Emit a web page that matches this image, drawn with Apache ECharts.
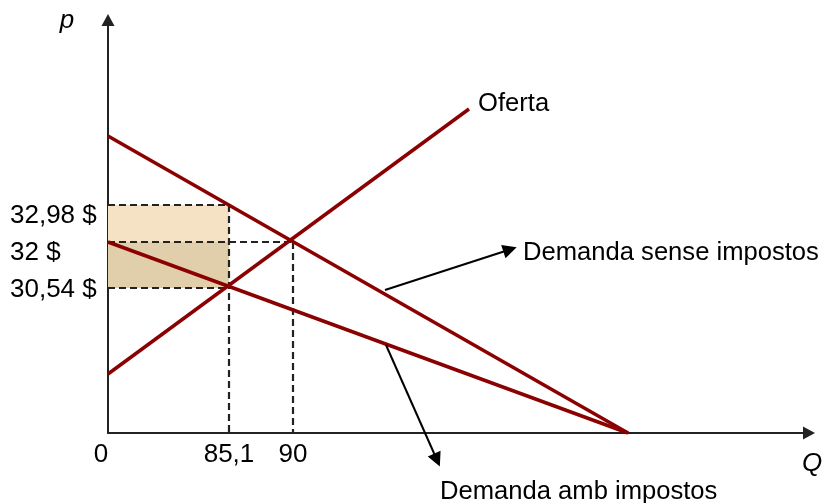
<!DOCTYPE html>
<html>
<head>
<meta charset="utf-8">
<script src="https://cdn.jsdelivr.net/npm/echarts@6/dist/echarts.min.js"></script>
<style>
html,body{margin:0;padding:0;background:#fff;}
#chart{width:822px;height:503px;}
</style>
</head>
<body>
<div id="chart"></div>
<script>
// Schematic diagram: coordinates are in arbitrary diagram units (not to scale).
const supplyLine = [[0, 59], [361, 324]];
const demandNoTax = [[0, 297], [520, 0]];
const demandWithTax = [[0, 191], [520, 0]];

const qTicks = [0, 121, 185];
const qLabels = ['0', '85,1', '90'];
const pTicks = [228, 191, 145];
const pLabels = ['32,98 $', '32 $', '30,54 $'];

const annotArrows = [
  [[277, 143], [402, 183.5]],
  [[278, 88], [329, -27]]
];
const textNotes = [
  { name: 'Oferta', value: [370, 329] },
  { name: 'Demanda sense impostos', value: [415, 180] },
  { name: 'Demanda amb impostos', value: [332, -59] }
];
const axisNames = [
  { name: 'p', value: [-41, 412] },
  { name: 'Q', value: [704, -31] }
];

const FONT = 'Arial, "Liberation Sans", sans-serif';
const FS = 26;
const FS_NOTE = 25.6;
const RED = '#8B0000';

// dashed guide segments built from tick values
const pTop = pTicks[0], pMid = pTicks[1], pLow = pTicks[2];
const q1 = qTicks[1], q0 = qTicks[2];
const dashedSegs = [
  [[0, pTop], [q1, pTop]],
  [[0, pMid], [q0, pMid]],
  [[0, pLow], [q1, pLow]],
  [[q1, pTop], [q1, 0]],
  [[q0, pMid], [q0, 0]]
];

const series = [];
// shaded rectangles
series.push({
  type: 'line', data: [], silent: true,
  markArea: {
    silent: true,
    data: [
      [{ coord: [0, pMid], itemStyle: { color: '#F5E2C4' } }, { coord: [q1, pTop] }],
      [{ coord: [0, pLow], itemStyle: { color: '#E1CFAC' } }, { coord: [q1, pMid] }]
    ]
  }
});
dashedSegs.forEach(function (seg) {
  series.push({
    type: 'line', data: seg, symbol: 'none', silent: true, z: 3,
    lineStyle: { color: '#222', width: 2.2, type: [7, 4] }
  });
});
[supplyLine, demandNoTax, demandWithTax].forEach(function (d) {
  series.push({
    type: 'line', data: d, symbol: 'none', silent: true, z: 5,
    lineStyle: { color: RED, width: 3.5 }
  });
});
series.push({
  type: 'lines', coordinateSystem: 'cartesian2d', silent: true, clip: false, z: 6,
  symbol: ['none', 'triangle'], symbolSize: 14,
  lineStyle: { color: '#000', width: 2, opacity: 1 },
  data: annotArrows.map(function (c) { return { coords: c }; })
});
series.push({
  type: 'scatter', silent: true, clip: false, symbolSize: 1, z: 7,
  itemStyle: { color: 'rgba(0,0,0,0)', opacity: 1 },
  label: {
    show: true, position: 'inside', align: 'left', verticalAlign: 'middle',
    formatter: '{b}', color: '#000', fontSize: FS_NOTE, fontFamily: FONT,
    textBorderWidth: 0
  },
  data: textNotes
});
series.push({
  type: 'scatter', silent: true, clip: false, symbolSize: 1, z: 7,
  itemStyle: { color: 'rgba(0,0,0,0)', opacity: 1 },
  label: {
    show: true, position: 'inside', align: 'center', verticalAlign: 'middle',
    formatter: '{b}', color: '#000', fontSize: FS, fontStyle: 'italic', fontFamily: FONT,
    textBorderWidth: 0
  },
  data: axisNames
});

const chart = echarts.init(document.getElementById('chart'), null, { renderer: 'canvas' });
chart.setOption({
  animation: false,
  backgroundColor: '#fff',
  grid: { left: 108, right: 13, top: 20, bottom: 70, containLabel: false },
  xAxis: {
    type: 'value', min: 0, max: 701,
    splitLine: { show: false }, axisTick: { show: false },
    axisLine: { lineStyle: { color: '#222', width: 2 }, symbol: ['none', 'triangle'], symbolSize: [13, 12] },
    axisLabel: {
      customValues: qTicks, margin: 9, color: '#000', fontSize: FS, fontFamily: FONT,
      formatter: function (v) {
        const i = qTicks.indexOf(v);
        if (i === 0) return '{z|' + qLabels[i] + '}';
        return i >= 0 ? qLabels[i] : '';
      },
      rich: { z: { padding: [0, 14, 0, 0], fontSize: FS, fontFamily: FONT, color: '#000' } }
    }
  },
  yAxis: {
    type: 'value', min: 0, max: 413,
    splitLine: { show: false }, axisTick: { show: false },
    axisLine: { lineStyle: { color: '#222', width: 2 }, symbol: ['none', 'triangle'], symbolSize: [13, 12] },
    axisLabel: {
      customValues: pTicks, margin: 98, align: 'left', color: '#000', fontSize: FS, fontFamily: FONT,
      formatter: function (v) {
        const i = pTicks.indexOf(v);
        if (i < 0) return '';
        return i < 2 ? '{s|' + pLabels[i] + '}' : '{t|' + pLabels[i] + '}';
      },
      rich: {
        s: { padding: [21, 0, 0, 0], fontSize: FS, fontFamily: FONT, color: '#000' },
        t: { padding: [4, 0, 0, 0], fontSize: FS, fontFamily: FONT, color: '#000' }
      }
    }
  },
  series: series
});
</script>
</body>
</html>
